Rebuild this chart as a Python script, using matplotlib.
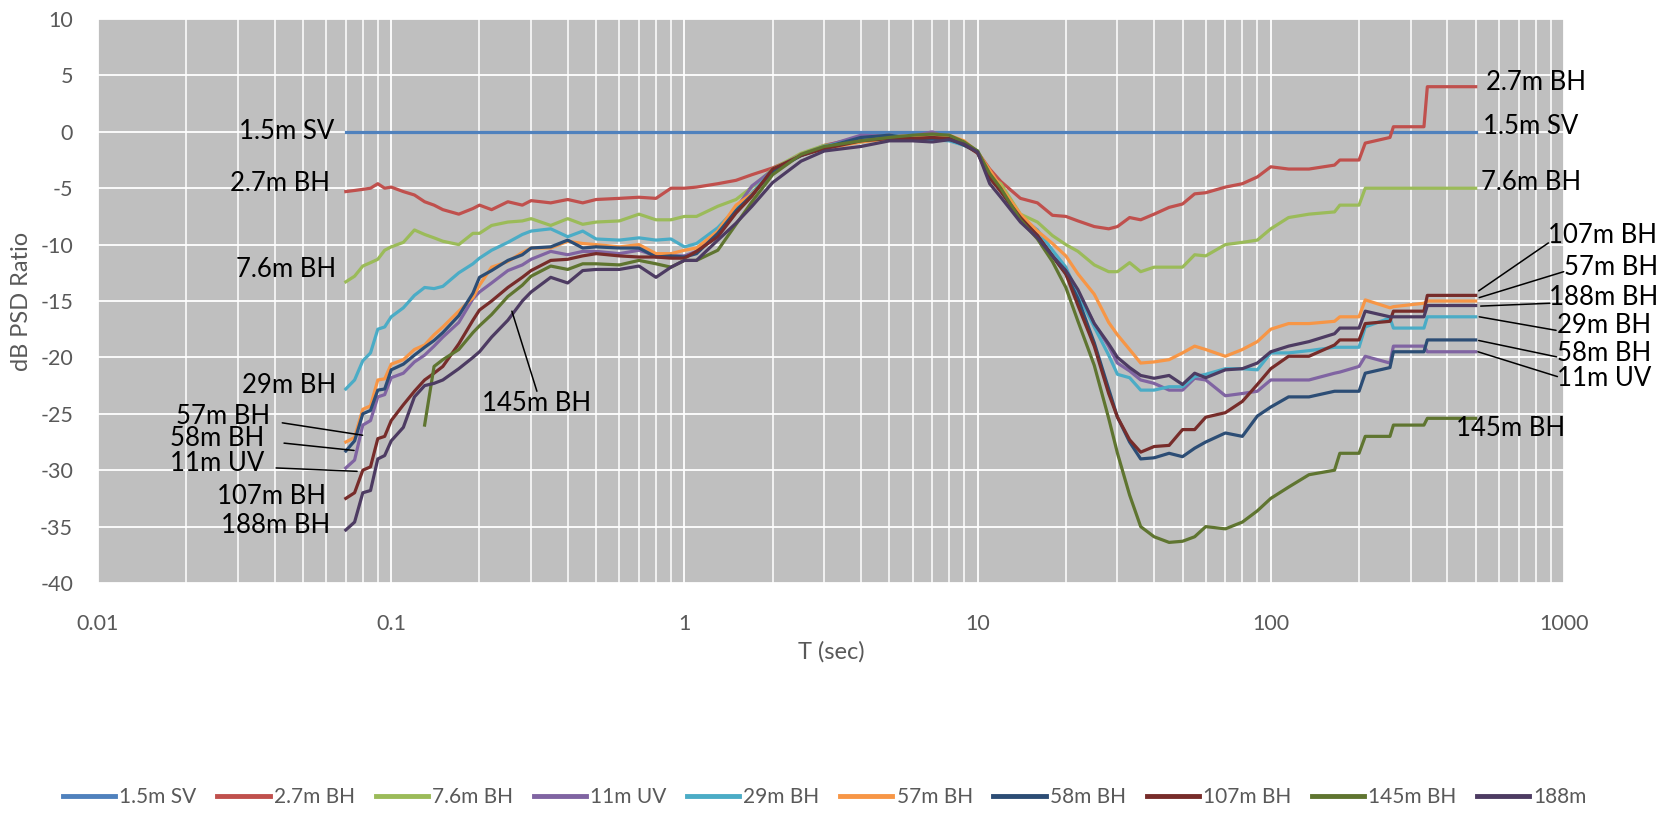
import numpy as np
import matplotlib
matplotlib.use('Agg')
import matplotlib.pyplot as plt
from matplotlib.ticker import LogLocator, FixedLocator, NullFormatter, FixedFormatter

plt.rcParams['font.family'] = ['Lato', 'DejaVu Sans']
plt.rcParams['axes.unicode_minus'] = False

nan = np.nan

# ---- data ----
T = [0.07, 0.075, 0.08, 0.085, 0.09, 0.095, 0.1, 0.11, 0.12, 0.13,
     0.14, 0.15, 0.17, 0.19, 0.2, 0.22, 0.25, 0.28, 0.3, 0.35,
     0.4, 0.45, 0.5, 0.6, 0.7, 0.8, 0.9, 1.0, 1.1, 1.3,
     1.5, 1.7, 2.0, 2.5, 3.0, 4.0, 5.0, 6.0, 7.0, 8.0,
     9.0, 10, 11, 12, 14, 16, 18, 20, 22, 25,
     28, 30, 33, 36, 40, 45, 50, 55, 60, 70,
     80, 90, 100, 115, 135, 165, 172, 200, 210, 255,
     262, 333, 342, 500]

T_sv = [0.07, 500]
v_1_5m_SV = [0.0, 0.0]

v_2_7m_BH = [-5.3, -5.2, -5.1, -5.0, -4.6, -5.0, -4.9, -5.3, -5.6, -6.2,
             -6.5, -6.9, -7.3, -6.8, -6.5, -6.9, -6.2, -6.5, -6.1, -6.3,
             -6.0, -6.3, -6.0, -5.9, -5.8, -5.9, -5.0, -5.0, -4.9, -4.6,
             -4.3, -3.8, -3.2, -2.1, -1.2, -0.5, -0.3, -0.45, -0.5, -0.6,
             -1.0, -1.8, -3.3, -4.4, -5.9, -6.3, -7.4, -7.5, -7.9, -8.4,
             -8.6, -8.4, -7.6, -7.8, -7.3, -6.7, -6.4, -5.5, -5.4, -4.9,
             -4.6, -4.0, -3.1, -3.3, -3.3, -2.95, -2.5, -2.5, -1.0, -0.5,
             0.45, 0.45, 4.0, 4.0]

v_7_6m_BH = [-13.3, -12.8, -11.9, -11.6, -11.3, -10.5, -10.2, -9.8, -8.7, -9.1,
             -9.4, -9.7, -10.0, -9.0, -9.0, -8.3, -8.0, -7.9, -7.7, -8.3,
             -7.7, -8.2, -8.0, -7.9, -7.3, -7.8, -7.8, -7.5, -7.5, -6.6,
             -6.0, -4.9, -3.3, -1.9, -1.2, -0.9, -0.5, -0.5, -0.4, -0.7,
             -1.1, -1.7, -3.9, -4.6, -7.3, -8.0, -9.2, -10.0, -10.6, -11.8,
             -12.4, -12.4, -11.6, -12.4, -12.0, -12.0, -12.0, -10.9, -11.0, -10.0,
             -9.8, -9.6, -8.6, -7.6, -7.3, -7.1, -6.5, -6.5, -5.0, -5.0,
             -5.0, -5.0, -5.0, -5.0]

v_11m_UV = [-29.8, -29.1, -26.0, -25.6, -23.5, -23.3, -21.8, -21.4, -20.4, -19.8,
            -19.0, -18.2, -16.9, -14.8, -14.2, -13.4, -12.3, -11.8, -11.3, -10.6,
            -10.9, -10.6, -10.6, -10.8, -10.5, -11.0, -11.0, -11.0, -10.6, -8.9,
            -6.8, -4.8, -3.4, -2.0, -1.3, -0.3, -0.4, -0.4, 0.0, -0.6,
            -1.1, -1.8, -3.8, -5.0, -7.5, -9.2, -11.0, -12.5, -14.2, -17.0,
            -19.0, -20.5, -21.2, -22.0, -22.3, -22.9, -22.9, -21.85, -22.0, -23.4,
            -23.2, -23.0, -22.0, -22.0, -22.0, -21.4, -21.3, -20.8, -19.9, -20.5,
            -19.0, -19.0, -19.5, -19.5]

v_29m_BH = [-22.8, -22.0, -20.3, -19.6, -17.5, -17.3, -16.4, -15.6, -14.5, -13.8,
            -13.9, -13.7, -12.5, -11.7, -11.2, -10.5, -9.8, -9.1, -8.8, -8.6,
            -9.3, -8.8, -9.5, -9.6, -9.4, -9.6, -9.5, -10.2, -9.9, -8.5,
            -6.8, -5.4, -3.4, -2.1, -1.3, -0.6, -0.3, -0.5, -0.7, -0.8,
            -1.2, -1.7, -3.9, -5.0, -7.6, -8.7, -10.5, -12.0, -14.4, -17.3,
            -19.8, -21.5, -21.8, -22.9, -22.9, -22.6, -22.6, -21.7, -21.5, -21.0,
            -21.0, -21.1, -19.6, -19.6, -19.4, -19.1, -19.1, -19.1, -17.3, -16.5,
            -17.4, -17.4, -16.4, -16.4]

v_57m_BH = [-27.5, -27.1, -24.6, -24.3, -22.0, -21.9, -20.6, -20.2, -19.3, -18.9,
            -18.0, -17.3, -15.9, -14.7, -13.6, -12.0, -11.5, -10.7, -10.3, -10.3,
            -9.7, -9.9, -10.0, -10.2, -10.0, -10.8, -10.8, -10.5, -10.3, -8.8,
            -6.5, -5.5, -3.6, -2.0, -1.5, -0.9, -0.6, -0.5, -0.5, -0.3,
            -0.8, -1.8, -3.4, -4.9, -7.3, -8.8, -9.9, -11.0, -12.6, -14.4,
            -16.9, -18.0, -19.3, -20.5, -20.4, -20.2, -19.6, -19.0, -19.3, -19.9,
            -19.3, -18.6, -17.5, -17.0, -17.0, -16.8, -16.4, -16.4, -14.9, -15.6,
            -15.5, -15.2, -15.0, -15.0]

v_58m_BH = [-28.3, -27.4, -25.0, -24.7, -22.9, -22.8, -21.1, -20.6, -19.8, -19.1,
            -18.5, -17.8, -16.3, -14.3, -12.9, -12.3, -11.4, -10.9, -10.3, -10.2,
            -9.6, -10.3, -10.2, -10.3, -10.3, -11.1, -11.0, -11.1, -10.8, -9.0,
            -7.0, -5.6, -3.5, -2.1, -1.4, -0.5, -0.3, -0.6, -0.6, -0.6,
            -1.2, -1.8, -4.0, -5.2, -7.8, -9.2, -11.0, -12.6, -14.8, -18.7,
            -22.8, -25.3, -27.5, -29.0, -28.9, -28.5, -28.8, -28.05, -27.5, -26.7,
            -27.0, -25.2, -24.4, -23.5, -23.5, -23.0, -23.0, -23.0, -21.4, -20.9,
            -19.5, -19.5, -18.45, -18.45]

v_107m_BH = [-32.5, -32.0, -30.0, -29.7, -27.2, -27.0, -25.6, -24.2, -23.0, -22.0,
             -21.4, -20.8, -18.8, -16.7, -15.8, -15.0, -13.8, -12.9, -12.3, -11.4,
             -11.3, -11.0, -10.8, -11.0, -11.1, -11.1, -11.2, -11.2, -10.6, -9.3,
             -7.2, -5.7, -3.3, -2.1, -1.5, -0.8, -0.6, -0.6, -0.5, -0.6,
             -1.1, -1.9, -4.1, -5.3, -7.6, -9.2, -11.0, -12.6, -15.4, -19.0,
             -23.2, -25.3, -27.3, -28.4, -27.9, -27.8, -26.4, -26.4, -25.3, -24.9,
             -23.9, -22.4, -21.0, -19.9, -19.9, -18.9, -18.45, -18.45, -17.0, -16.8,
             -15.9, -15.9, -14.5, -14.5]

v_145m_BH = [nan, nan, nan, nan, nan, nan, nan, nan, nan, -26.0,
             -20.8, -20.2, -19.3, -17.8, -17.2, -16.2, -14.6, -13.6, -12.8, -11.9,
             -12.2, -11.7, -11.7, -11.8, -11.4, -11.7, -12.0, -11.4, -11.4, -10.5,
             -8.2, -6.2, -3.8, -2.0, -1.3, -0.8, -0.5, -0.3, -0.2, -0.3,
             -0.9, -1.7, -3.7, -5.0, -7.8, -9.5, -11.5, -13.8, -16.8, -20.7,
             -25.4, -28.5, -32.2, -35.0, -35.9, -36.4, -36.3, -35.9, -35.0, -35.2,
             -34.6, -33.6, -32.5, -31.5, -30.4, -30.0, -28.5, -28.5, -27.0, -27.0,
             -26.0, -26.0, -25.4, -25.4]

v_188m = [-35.3, -34.6, -32.0, -31.8, -29.0, -28.7, -27.4, -26.2, -23.5, -22.5,
          -22.3, -22.0, -21.0, -20.0, -19.5, -18.2, -16.7, -15.0, -14.2, -12.9,
          -13.4, -12.3, -12.2, -12.2, -11.9, -12.9, -12.0, -11.4, -11.4, -9.6,
          -8.1, -6.6, -4.5, -2.6, -1.7, -1.3, -0.8, -0.8, -0.9, -0.7,
          -1.1, -1.8, -4.6, -5.8, -8.0, -9.4, -11.0, -12.3, -14.0, -17.0,
          -18.8, -20.0, -20.9, -21.6, -21.85, -21.6, -22.4, -21.4, -21.8, -21.1,
          -21.0, -20.5, -19.5, -19.0, -18.6, -17.9, -17.4, -17.4, -15.9, -16.4,
          -16.4, -16.4, -15.4, -15.4]

legend_labels = ["1.5m SV", "2.7m BH", "7.6m BH", "11m UV", "29m BH",
                 "57m BH", "58m BH", "107m BH", "145m BH", "188m"]
colors = ["#4F81BD", "#C0504D", "#9BBB59", "#8064A2", "#4BACC6",
          "#F79646", "#2C4D75", "#772C2A", "#5F7530", "#4D3B62"]
series = [(T_sv, v_1_5m_SV), (T, v_2_7m_BH), (T, v_7_6m_BH), (T, v_11m_UV),
          (T, v_29m_BH), (T, v_57m_BH), (T, v_58m_BH), (T, v_107m_BH),
          (T, v_145m_BH), (T, v_188m)]

x_ticks = [0.01, 0.1, 1, 10, 100, 1000]
x_tick_labels = ["0.01", "0.1", "1", "10", "100", "1000"]
y_ticks = [-40, -35, -30, -25, -20, -15, -10, -5, 0, 5, 10]

# (text, text position (T, dB), horizontal alignment, leader from, leader to)
labels_left = [
    ("1.5m SV", (0.064, 0.0), 'right', None, None),
    ("2.7m BH", (0.062, -4.6), 'right', None, None),
    ("7.6m BH", (0.065, -12.25), 'right', None, None),
    ("29m BH", (0.065, -22.5), 'right', None, None),
    ("57m BH", (0.0386, -25.2), 'right', (0.0425, -25.8), (0.0799, -26.9)),
    ("58m BH", (0.037, -27.2), 'right', (0.0431, -27.6), (0.0747, -28.25)),
    ("11m UV", (0.037, -29.4), 'right', (0.0405, -29.8), (0.0765, -30.1)),
    ("107m BH", (0.0598, -32.3), 'right', None, None),
    ("188m BH", (0.0619, -34.9), 'right', None, None),
    ("145m BH", (0.204, -24.05), 'left', (0.314, -23.0), (0.258, -15.9)),
]
labels_right = [
    ("2.7m BH", (542, 4.4), 'left', None, None),
    ("1.5m SV", (529, 0.5), 'left', None, None),
    ("7.6m BH", (520, -4.5), 'left', None, None),
    ("107m BH", (885, -9.2), 'left', (885, -9.85), (512, -14.1)),
    ("57m BH", (998, -12.05), 'left', (998, -12.4), (514, -14.7)),
    ("188m BH", (891, -14.7), 'left', (895, -15.2), (520, -15.45)),
    ("29m BH", (944, -17.2), 'left', (940, -17.6), (514, -16.4)),
    ("58m BH", (944, -19.65), 'left', (944, -19.95), (512, -18.5)),
    ("11m UV", (950, -21.9), 'left', (950, -21.7), (509, -19.5)),
    ("145m BH", (427, -26.3), 'left', None, None),
]

# ---- figure ----
fig = plt.figure(figsize=(16.70, 8.13), dpi=100)
ax = fig.add_axes([0.0587, 0.2829, 0.8778, 0.6937])
ax.set_facecolor('#BFBFBF')

ax.set_xscale('log')
ax.set_xlim(0.01, 1000)
ax.set_ylim(-40, 10)

for (tx, vy), lab, col in zip(series, legend_labels, colors):
    ax.plot(tx, vy, color=col, lw=2.3, label=lab, solid_joinstyle='round')

ax.xaxis.set_major_locator(FixedLocator(x_ticks))
ax.xaxis.set_major_formatter(FixedFormatter(x_tick_labels))
ax.xaxis.set_minor_locator(LogLocator(base=10, subs=[2, 3, 4, 5, 6, 7, 8, 9], numticks=20))
ax.xaxis.set_minor_formatter(NullFormatter())
ax.yaxis.set_major_locator(FixedLocator(y_ticks))

ax.grid(True, which='major', color='white', lw=1.3)
ax.grid(True, which='minor', axis='x', color='white', lw=1.1)
ax.set_axisbelow(True)
for sp in ax.spines.values():
    sp.set_visible(False)

ax.tick_params(axis='both', which='both', length=0, labelsize=15.5, labelcolor='#595959')
ax.tick_params(axis='x', pad=22)
ax.tick_params(axis='y', pad=18)

ax.set_xlabel("T (sec)", fontsize=17, color='#595959')
ax.set_ylabel("dB PSD Ratio", fontsize=17, color='#595959')
ax.xaxis.label.set_va('center')
ax.yaxis.label.set_va('center')
ax.xaxis.set_label_coords(0.5, -0.122)
ax.yaxis.set_label_coords(-0.0525, 0.5)

for txt, pos, ha, lfrom, lto in labels_left + labels_right:
    ax.text(pos[0], pos[1], txt, ha=ha, va='center', fontsize=18.5, color='black',
            clip_on=False, zorder=5)
    if lfrom is not None:
        ax.annotate('', xy=lto, xytext=lfrom,
                    arrowprops=dict(arrowstyle='-', color='black', lw=1.1,
                                    shrinkA=0, shrinkB=0),
                    annotation_clip=False, zorder=5)

handles, labs = ax.get_legend_handles_labels()
leg = fig.legend(handles, labs, loc='center', bbox_to_anchor=(0.494, 0.0197),
                 ncol=10, frameon=False, fontsize=15, handlelength=2.5,
                 handletextpad=0.2, columnspacing=1.0, labelcolor='#595959')
for h in leg.get_lines():
    h.set_linewidth(3.5)

fig.savefig('out.png', dpi=100)
